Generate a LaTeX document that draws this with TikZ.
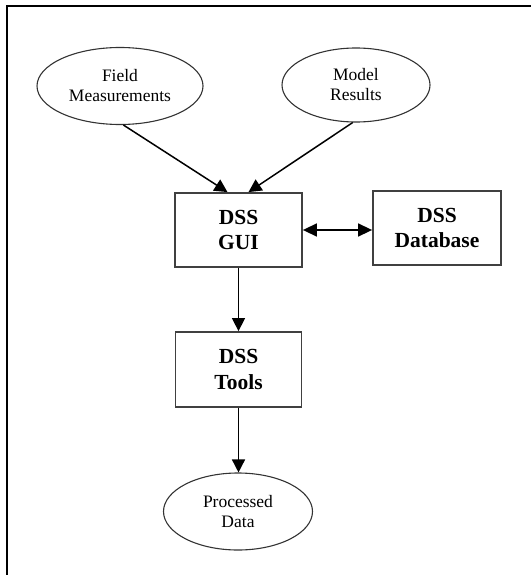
\documentclass[tikz,border=0pt]{standalone}
\usepackage{fontspec}
\setmainfont{Liberation Serif}
\usetikzlibrary{shapes.geometric,arrows.meta}
\begin{document}
\begin{tikzpicture}[x=1pt,y=-1pt,
  oval/.style={ellipse,draw=black!80,line width=1.1pt,inner sep=0pt,align=center,
    font=\fontsize{17.5}{20}\selectfont},
  boxnode/.style={rectangle,draw=black!75,line width=1.8pt,inner sep=0pt,align=center,
    font=\fontsize{21.5}{25.5}\selectfont\bfseries},
  link/.style={line width=1.5pt,-{Triangle[length=13pt,width=13pt]}},
  dlink/.style={line width=1.5pt,{Triangle[length=14pt,width=13pt]}-{Triangle[length=14pt,width=13pt]}}]
\useasboundingbox (0,0) rectangle (531,575);
\draw[line width=2.4pt] (7,575) -- (7,6) -- (531,6);
\node[oval,minimum width=166pt,minimum height=77pt] (field) at (120,86) {Field\\Measurements};
\node[oval,minimum width=148pt,minimum height=74pt] (model) at (356,85) {Model\\Results};
\node[boxnode,minimum width=127pt,minimum height=74pt] (gui) at (238.5,230) {DSS\\GUI};
\node[boxnode,minimum width=128pt,minimum height=74pt] (db) at (437,228) {DSS\\Database};
\node[boxnode,minimum width=126pt,minimum height=75pt] (tools) at (238.5,369.5) {DSS\\Tools};
\node[oval,minimum width=149pt,minimum height=77pt] (proc) at (238,511.5) {Processed\\Data};
\draw[link] (field.-85) -- ([xshift=-11pt]gui.north);
\draw[link] (model.-95) -- ([xshift=10pt]gui.north);
\draw[dlink] (gui.east) -- (gui.east -| db.west);
\draw[link] (gui.south) -- (tools.north);
\draw[link] (tools.south) -- (tools.south |- proc.north);
\end{tikzpicture}
\end{document}
